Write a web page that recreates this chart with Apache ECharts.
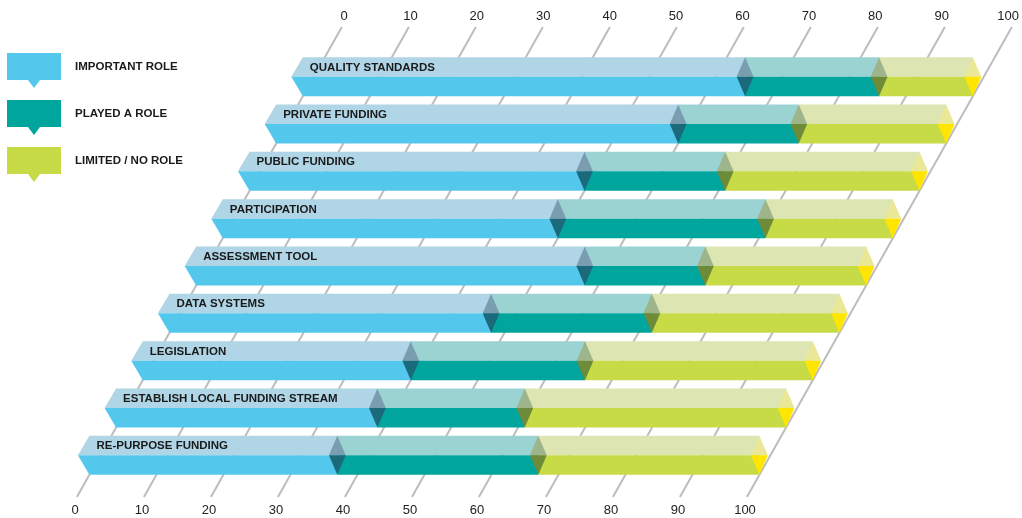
<!DOCTYPE html>
<html><head><meta charset="utf-8">
<script src="https://cdn.jsdelivr.net/npm/echarts@6/dist/echarts.min.js"></script>
<style>html,body{margin:0;padding:0;background:#fff}#chart{width:1022px;height:518px}</style>
</head><body><div id="chart"></div>
<script>
// ---- data ----
const categories = ['QUALITY STANDARDS','PRIVATE FUNDING','PUBLIC FUNDING','PARTICIPATION','ASSESSMENT TOOL','DATA SYSTEMS','LEGISLATION','ESTABLISH LOCAL FUNDING STREAM','RE-PURPOSE FUNDING'];
const importantRole = [66, 60, 50, 50, 58, 48, 40, 39, 37];
const playedRole    = [20, 18, 21, 31, 18, 24, 26, 22, 30];
const limitedRole   = [14, 22, 29, 19, 24, 28, 34, 39, 33];
const tickValues = [0, 10, 20, 30, 40, 50, 60, 70, 80, 90, 100];
const roleNames = ['IMPORTANT ROLE', 'PLAYED A ROLE', 'LIMITED / NO ROLE'];

// ---- styling ----
const K = 0.5637;      // horizontal shift per pixel of height (oblique view)
const HALF = 19.5;     // height of each bar face
const REF_OFF = 21.4;  // reference line below the grid
const frontColors = ['#54C8EC', '#00A69D', '#C7DB46'];
const topColors   = ['#AFD5E6', '#9BD3D3', '#DDE6B2'];
const capTop      = ['#7A9EB0', '#9EB48A', '#EAE896'];
const capBottom   = ['#1B6A7C', '#6E8B3A', '#FFE500'];
const FONT = '"Liberation Sans", Arial, Helvetica, sans-serif';

const roleValues = [importantRole, playedRole, limitedRole];
function segments(r) {
  return categories.map((c, i) => {
    let s = 0;
    for (let k = 0; k < r; k++) s += roleValues[k][i];
    return [i, s, s + roleValues[r][i]];
  });
}

function rowGeom(params, api, row) {
  const cs = params.coordSys;
  const yc = api.coord([0, row])[1];
  const shift = (cs.y + cs.height + REF_OFF - (yc + HALF)) * K;
  return { yc, shift };
}

function solid(color) { return { fill: color, opacity: 1, stroke: null }; }

function faceRenderer(r) {
  return function (params, api) {
    const row = api.value(0), s = api.value(1), e = api.value(2);
    const g = rowGeom(params, api, row);
    const xs = api.coord([s, row])[0] + g.shift;
    const xe = api.coord([e, row])[0] + g.shift;
    const yc = g.yc, yt = yc - HALF, yb = yc + HALF;
    let topPts, frontPts;
    if (r === 0) {
      const tip = xs - 11.5;
      topPts = [[tip, yc], [xs, yt], [xe, yt], [xe, yc]];
      frontPts = [[tip, yc], [xe, yc], [xe, yb], [xs, yb]];
    } else {
      topPts = [[xs, yc], [xs, yt], [xe, yt], [xe, yc]];
      frontPts = [[xs, yc], [xe, yc], [xe, yb], [xs, yb]];
    }
    return {
      type: 'group',
      children: [
        { type: 'polygon', shape: { points: topPts }, style: solid(topColors[r]) },
        { type: 'polygon', shape: { points: frontPts }, style: solid(frontColors[r]) }
      ]
    };
  };
}

// caps (diamonds at segment ends) + row labels
const capData = [];
categories.forEach((c, i) => {
  let acc = 0;
  for (let r = 0; r < 3; r++) {
    acc += roleValues[r][i];
    capData.push([i, acc, r]);
  }
});

function capRenderer(params, api) {
  const row = api.value(0), v = api.value(1), r = api.value(2);
  const g = rowGeom(params, api, row);
  const x = api.coord([v, row])[0] + g.shift;
  const yc = g.yc, w = 8.4;
  const children = [
    { type: 'polygon', shape: { points: [[x - w, yc], [x, yc - HALF], [x + w, yc]] }, style: solid(capTop[r]) },
    { type: 'polygon', shape: { points: [[x - w, yc], [x + w, yc], [x, yc + HALF]] }, style: solid(capBottom[r]) }
  ];
  if (r === 0) {
    const x0 = api.coord([0, row])[0] + g.shift;
    children.push({
      type: 'text',
      style: {
        x: x0 + 7, y: yc - HALF / 2 + 0.5,
        text: categories[row],
        fill: '#1a1a1a',
        font: 'bold 11.5px ' + FONT,
        align: 'left', verticalAlign: 'middle'
      }
    });
  }
  return { type: 'group', children };
}

function gridLineRenderer(params, api) {
  const v = api.value(0);
  const cs = params.coordSys;
  const yRef = cs.y + cs.height + REF_OFF;
  const base = api.coord([v, 0])[0];
  const y1 = cs.y + cs.height + 18, y2 = cs.y - 26;
  return {
    type: 'line',
    shape: { x1: base + (yRef - y1) * K, y1: y1, x2: base + (yRef - y2) * K, y2: y2 },
    style: { stroke: '#BDBDBD', lineWidth: 2 }
  };
}

const chart = echarts.init(document.getElementById('chart'), null, { renderer: 'canvas' });
const axisLabelStyle = { fontFamily: FONT, fontSize: 13, color: '#222' };
chart.setOption({
  animation: false,
  backgroundColor: '#fff',
  legend: {
    orient: 'vertical', left: 7, top: 45, padding: 0,
    data: roleNames,
    itemWidth: 54, itemHeight: 43, itemGap: 4,
    icon: 'path://M27,-8M0,0L54,0L54,27L33,27L27,35L21,27L0,27Z',
    selectedMode: false,
    textStyle: { fontFamily: FONT, fontSize: 11.5, fontWeight: 'bold', color: '#1a1a1a', padding: [0, 0, 0, 9] }
  },
  grid: [
    { left: 75, width: 670, top: 53, height: 426 },
    { left: 344, width: 670, top: 27, height: 1 }
  ],
  xAxis: [
    { type: 'value', gridIndex: 0, min: 0, max: 100, interval: 10, position: 'bottom',
      axisLine: { show: false }, axisTick: { show: false }, splitLine: { show: false },
      axisLabel: Object.assign({ margin: 25 }, axisLabelStyle) },
    { type: 'value', gridIndex: 1, min: 0, max: 100, interval: 10, position: 'top',
      axisLine: { show: false }, axisTick: { show: false }, splitLine: { show: false },
      axisLabel: Object.assign({ margin: 4 }, axisLabelStyle) }
  ],
  yAxis: [
    { type: 'category', gridIndex: 0, data: categories, inverse: true, show: false },
    { type: 'value', gridIndex: 1, show: false }
  ],
  series: [
    { type: 'custom', name: 'grid', coordinateSystem: 'cartesian2d', xAxisIndex: 0, yAxisIndex: 0,
      clip: false, silent: true, z: 0, emphasis: { disabled: true },
      data: tickValues.map(v => [v, 0]), encode: { x: 0, y: 1 }, renderItem: gridLineRenderer },
    ...roleNames.map((name, r) => ({
      type: 'custom', name: name, coordinateSystem: 'cartesian2d', xAxisIndex: 0, yAxisIndex: 0,
      clip: false, z: 2, itemStyle: { color: frontColors[r], opacity: 1 }, emphasis: { disabled: true },
      data: segments(r), encode: { x: [1, 2], y: 0 }, renderItem: faceRenderer(r)
    })),
    { type: 'custom', name: 'caps', coordinateSystem: 'cartesian2d', xAxisIndex: 0, yAxisIndex: 0,
      clip: false, silent: true, z: 3, emphasis: { disabled: true },
      data: capData, encode: { x: 1, y: 0 }, renderItem: capRenderer }
  ]
});
</script>
</body></html>
